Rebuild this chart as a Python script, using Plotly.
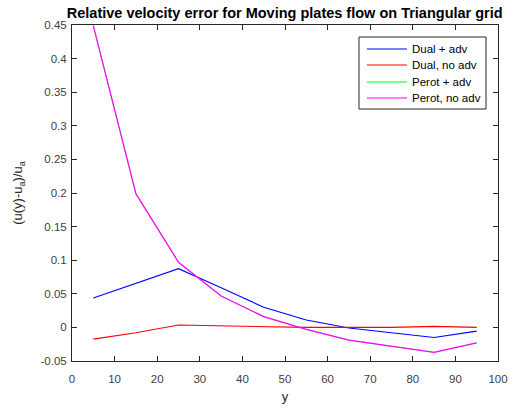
import plotly.graph_objects as go

# sample positions across the channel
y_pos = [5, 15, 25, 35, 45, 55, 65, 75, 85, 95]

# relative velocity error for each scheme
dual_adv = [0.0437, 0.0655, 0.0874, 0.059, 0.030, 0.011, -0.001, -0.008, -0.015, -0.0055]
dual_noadv = [-0.0174, -0.008, 0.0035, 0.002, 0.0005, 0.0, 0.0, 0.0, 0.0015, 0.0]
perot_adv = [0.449, 0.199, 0.097, 0.0467, 0.016, -0.003, -0.019, -0.028, -0.037, -0.023]
perot_noadv = [0.449, 0.199, 0.097, 0.0467, 0.016, -0.003, -0.019, -0.028, -0.037, -0.023]

series = [
    ("Dual + adv", dual_adv, "#0000ff", 1.1),
    ("Dual, no adv", dual_noadv, "#ff0000", 1.1),
    ("Perot + adv", perot_adv, "#00ff00", 0.6),
    ("Perot, no adv", perot_noadv, "#ff00ff", 1.25),
]

x_ticks = [0, 10, 20, 30, 40, 50, 60, 70, 80, 90, 100]
y_ticks = [-0.05, 0, 0.05, 0.1, 0.15, 0.2, 0.25, 0.3, 0.35, 0.4, 0.45]
y_tick_text = ["-0.05", "0", "0.05", "0.1", "0.15", "0.2", "0.25", "0.3", "0.35", "0.4", "0.45"]

fig = go.Figure()
for name, vals, color, w in series:
    fig.add_trace(go.Scatter(x=y_pos, y=vals, mode="lines", name=name,
                             line=dict(color=color, width=w), showlegend=False))

# boxed legend in the upper right of the axes (paper coordinates)
W, H = 513, 410
L, R, T, B = 72, 15, 25, 49
pw, ph = W - L - R, H - T - B


def px(xp):
    return (xp - L) / pw


def py(yp):
    return (H - B - yp) / ph


fig.add_shape(type="rect", xref="paper", yref="paper",
              x0=px(359), x1=px(486), y0=py(109), y1=py(37),
              line=dict(color="#262626", width=1), fillcolor="white", layer="above")
row_y = [49, 65, 82, 98]
for (name, vals, color, w), ry in zip(series, row_y):
    fig.add_shape(type="line", xref="paper", yref="paper",
                  x0=px(367), x1=px(407), y0=py(ry), y1=py(ry),
                  line=dict(color=color, width=1.2), layer="above")
    fig.add_annotation(xref="paper", yref="paper", x=px(410), y=py(ry),
                       text=name, showarrow=False, xanchor="left", yanchor="middle",
                       font=dict(size=11.5, color="black"))

axis_common = dict(
    showgrid=False, zeroline=False, showline=True, mirror="ticks",
    linecolor="#262626", linewidth=1, ticks="inside", ticklen=5,
    tickcolor="#262626", tickfont=dict(size=11.5, color="#404040"),
    automargin=False,
)

fig.update_layout(
    width=W, height=H,
    margin=dict(l=L, r=R, t=T, b=B),
    paper_bgcolor="white", plot_bgcolor="white",
    font=dict(family="Liberation Sans, Arial, sans-serif", color="#262626"),
    title=dict(text="<b>Relative velocity error for Moving plates flow on Triangular grid</b>",
               x=0.555, xanchor="center", y=0.968, yanchor="middle",
               font=dict(size=14.5, color="black")),
    xaxis=dict(range=[0, 100], tickvals=x_ticks, ticklabelstandoff=7,
               title=dict(text="y", font=dict(size=13, color="#262626"), standoff=8),
               **axis_common),
    yaxis=dict(range=[-0.05, 0.45], tickvals=y_ticks, ticktext=y_tick_text,
               ticklabelstandoff=2,
               title=dict(text="(u(y)-u<sub>a</sub>)/u<sub>a</sub>",
                          font=dict(size=13, color="#262626"), standoff=14),
               **axis_common),
)

fig.write_html("out.html")
